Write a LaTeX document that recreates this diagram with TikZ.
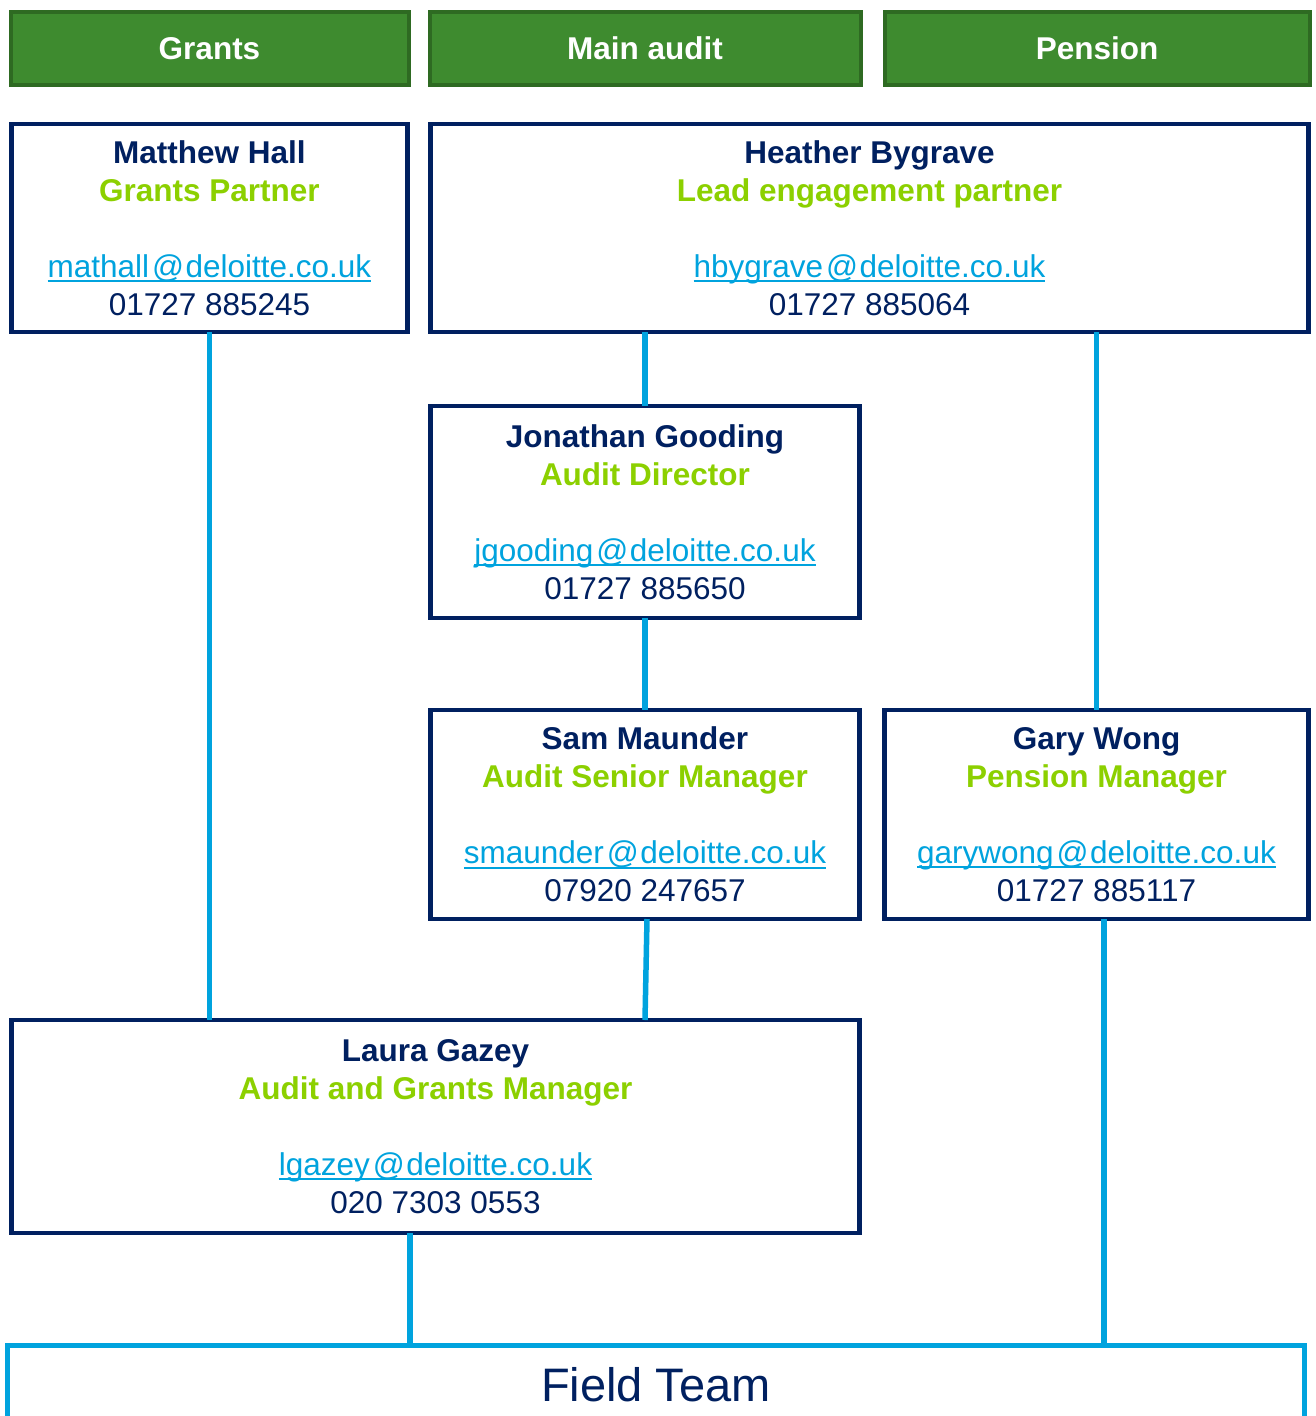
\documentclass[tikz,border=0pt]{standalone}
\usepackage{fontspec}
\setmainfont{Liberation Sans}
\definecolor{navy}{RGB}{0,32,96}
\definecolor{lgreen}{RGB}{140,208,0}
\definecolor{linkc}{RGB}{0,163,222}
\definecolor{hfill}{RGB}{62,139,47}
\definecolor{hdraw}{RGB}{46,106,34}
\newcommand\mylink[1]{\setbox0\hbox{#1}\rlap{\rule[-5pt]{\wd0}{2pt}}\box0}
\newcommand\person[5]{\textbf{#1}\\{\color{lgreen}\textbf{#2}}\\\mbox{}\\{\color{linkc}\mylink{#3\kern3pt@\kern1.5pt#4}}\\#5}
\tikzset{
  hdr/.style={draw=hdraw, fill=hfill, line width=4pt, inner sep=0pt, outer sep=0pt,
    text=white, text height=23pt, text depth=0pt, font=\fontsize{31.5}{38}\selectfont\bfseries},
  pbox/.style={draw=navy, line width=4.5pt, inner sep=0pt, outer sep=0pt, fill=white,
    text=navy, align=center, font=\fontsize{31.5}{38}\selectfont},
  conn/.style={draw=linkc, line width=5.5pt}
}
\begin{document}
\begin{tikzpicture}[x=1pt,y=-1pt]
\useasboundingbox (0,0) rectangle (1315,1416);
\path[clip] (0,0) rectangle (1315,1416);
% headers
\node[hdr, minimum width=398, minimum height=73] (hg) at (209.5,48) {Grants};
\node[hdr, minimum width=431, minimum height=73] (hm) at (645,48) {Main audit};
\node[hdr, minimum width=425, minimum height=73] (hp) at (1097,48) {Pension};
% field team
\node[draw=linkc, line width=5pt, inner sep=0pt, outer sep=0pt, minimum width=1297, minimum height=80,
  text=navy, font=\fontsize{47}{56}\selectfont] (ft) at (656,1385) {Field Team};
% people
\node[pbox, minimum width=396, minimum height=208] (mh) at (209.5,228)
  {\person{Matthew Hall}{Grants Partner}{mathall}{deloitte.co.uk}{01727 885245}};
\node[pbox, minimum width=878, minimum height=208] (hb) at (869.5,228)
  {\person{Heather Bygrave}{Lead engagement partner}{hbygrave}{deloitte.co.uk}{01727 885064}};
\node[pbox, minimum width=429, minimum height=212] (jg) at (645,512)
  {\person{Jonathan Gooding}{Audit Director}{jgooding}{deloitte.co.uk}{01727 885650}};
\node[pbox, minimum width=429, minimum height=209] (sm) at (645,814.5)
  {\person{Sam Maunder}{Audit Senior Manager}{smaunder}{deloitte.co.uk}{07920 247657}};
\node[pbox, minimum width=424, minimum height=209] (gw) at (1096.5,814.5)
  {\person{Gary Wong}{Pension Manager}{garywong}{deloitte.co.uk}{01727 885117}};
\node[pbox, minimum width=848, minimum height=213] (lg) at (435.5,1126.5)
  {\person{Laura Gazey}{Audit and Grants Manager}{lgazey}{deloitte.co.uk}{020 7303 0553}};
% connectors
\draw[conn] (mh.south) -- (mh.south |- lg.north);
\draw[conn] (jg.north) -- (jg.north |- hb.south);
\draw[conn] (gw.north) -- (gw.north |- hb.south);
\draw[conn] (jg.south) -- (sm.north);
\draw[conn] ([xshift=2pt]sm.south) -- (lg.north -| sm.south);
\draw[conn] ([xshift=-25.5pt]lg.south) -- ([xshift=-25.5pt]lg.south |- ft.north);
\draw[conn] ([xshift=7.5pt]gw.south) -- ([xshift=7.5pt]gw.south |- ft.north);
\end{tikzpicture}
\end{document}
